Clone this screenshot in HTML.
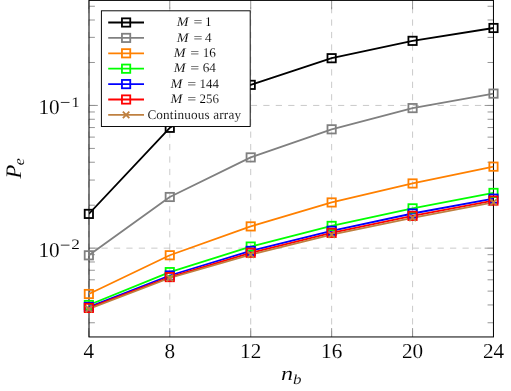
<!DOCTYPE html>
<html lang="en"><head><meta charset="utf-8"><title>Pe versus nb</title>
<style>
html,body{margin:0;padding:0;background:#fff;overflow:hidden}
svg{display:block;will-change:transform}
text{font-family:"Liberation Serif",serif;fill:#000;stroke:#fff;stroke-width:0.1;text-rendering:geometricPrecision}
.i{font-style:italic}
</style>
</head><body>
<svg width="511" height="391" viewBox="0 0 511 391">
<rect x="0" y="0" width="511" height="391" fill="#ffffff"/>
<defs><clipPath id="c"><rect x="89.0" y="0.4" width="404.45" height="336.55"/></clipPath></defs>
<g stroke="#bfbfbf" stroke-width="0.830" stroke-dasharray="6.225 6.225" fill="none">
<path d="M88.85 336.95V0.4"/>
<path d="M169.78 336.95V0.4"/>
<path d="M250.71 336.95V0.4"/>
<path d="M331.64 336.95V0.4"/>
<path d="M412.57 336.95V0.4"/>
<path d="M493.50 336.95V0.4"/>
<path d="M89.0 105.45H493.45"/>
<path d="M89.0 248.15H493.45"/>
</g>
<g stroke="#808080" stroke-width="0.830" fill="none">
<path d="M88.85 336.95v-8.82M88.85 0.4v8.82"/>
<path d="M169.78 336.95v-8.82M169.78 0.4v8.82"/>
<path d="M250.71 336.95v-8.82M250.71 0.4v8.82"/>
<path d="M331.64 336.95v-8.82M331.64 0.4v8.82"/>
<path d="M412.57 336.95v-8.82M412.57 0.4v8.82"/>
<path d="M493.50 336.95v-8.82M493.50 0.4v8.82"/>
<path d="M89.0 105.45h8.82M493.45 105.45h-8.82"/>
<path d="M89.0 248.15h8.82M493.45 248.15h-8.82"/>
<path d="M89.0 322.76h5.88M493.45 322.76h-5.88M89.0 304.94h5.88M493.45 304.94h-5.88M89.0 291.11h5.88M493.45 291.11h-5.88M89.0 279.81h5.88M493.45 279.81h-5.88M89.0 270.25h5.88M493.45 270.25h-5.88M89.0 261.98h5.88M493.45 261.98h-5.88M89.0 254.68h5.88M493.45 254.68h-5.88M89.0 205.19h5.88M493.45 205.19h-5.88M89.0 180.06h5.88M493.45 180.06h-5.88M89.0 162.24h5.88M493.45 162.24h-5.88M89.0 148.41h5.88M493.45 148.41h-5.88M89.0 137.11h5.88M493.45 137.11h-5.88M89.0 127.55h5.88M493.45 127.55h-5.88M89.0 119.28h5.88M493.45 119.28h-5.88M89.0 111.98h5.88M493.45 111.98h-5.88M89.0 62.49h5.88M493.45 62.49h-5.88M89.0 37.36h5.88M493.45 37.36h-5.88M89.0 20.00h5.88M493.45 20.00h-5.88M89.0 6.25h5.88M493.45 6.25h-5.88"/>
</g>
<rect x="89.0" y="0.4" width="404.45" height="336.55" fill="none" stroke="#000" stroke-width="1.000"/>
<g clip-path="url(#c)" fill="none" stroke-linejoin="round">
<polyline points="88.85,213.90 169.78,127.80 250.71,84.85 331.64,58.20 412.57,40.85 493.50,28.00" stroke="#000000" stroke-width="1.800"/>
<polyline points="88.85,255.30 169.78,197.00 250.71,157.40 331.64,129.30 412.57,108.10 493.50,93.60" stroke="#808080" stroke-width="1.800"/>
<polyline points="88.85,294.00 169.78,255.25 250.71,226.40 331.64,202.45 412.57,183.45 493.50,166.65" stroke="#ff8000" stroke-width="1.800"/>
<polyline points="88.85,305.00 169.78,272.10 250.71,246.55 331.64,225.90 412.57,208.35 493.50,192.90" stroke="#00ff00" stroke-width="1.800"/>
<polyline points="88.85,306.95 169.78,275.50 250.71,250.90 331.64,230.80 412.57,213.50 493.50,198.65" stroke="#0000ff" stroke-width="1.800"/>
<polyline points="88.85,307.95 169.78,277.10 250.71,252.80 331.64,232.90 412.57,215.90 493.50,200.60" stroke="#ff0000" stroke-width="1.800"/>
<polyline points="88.85,309.00 169.78,278.00 250.71,254.60 331.64,234.60 412.57,217.80 493.50,202.40" stroke="#bf8040" stroke-width="1.800"/>
</g>
<rect x="84.70" y="209.75" width="8.30" height="8.30" fill="none" stroke="#000000" stroke-width="1.800"/>
<rect x="165.63" y="123.65" width="8.30" height="8.30" fill="none" stroke="#000000" stroke-width="1.800"/>
<rect x="246.56" y="80.70" width="8.30" height="8.30" fill="none" stroke="#000000" stroke-width="1.800"/>
<rect x="327.49" y="54.05" width="8.30" height="8.30" fill="none" stroke="#000000" stroke-width="1.800"/>
<rect x="408.42" y="36.70" width="8.30" height="8.30" fill="none" stroke="#000000" stroke-width="1.800"/>
<rect x="489.35" y="23.85" width="8.30" height="8.30" fill="none" stroke="#000000" stroke-width="1.800"/>
<rect x="84.70" y="251.15" width="8.30" height="8.30" fill="none" stroke="#808080" stroke-width="1.800"/>
<rect x="165.63" y="192.85" width="8.30" height="8.30" fill="none" stroke="#808080" stroke-width="1.800"/>
<rect x="246.56" y="153.25" width="8.30" height="8.30" fill="none" stroke="#808080" stroke-width="1.800"/>
<rect x="327.49" y="125.15" width="8.30" height="8.30" fill="none" stroke="#808080" stroke-width="1.800"/>
<rect x="408.42" y="103.95" width="8.30" height="8.30" fill="none" stroke="#808080" stroke-width="1.800"/>
<rect x="489.35" y="89.45" width="8.30" height="8.30" fill="none" stroke="#808080" stroke-width="1.800"/>
<rect x="84.70" y="289.85" width="8.30" height="8.30" fill="none" stroke="#ff8000" stroke-width="1.800"/>
<rect x="165.63" y="251.10" width="8.30" height="8.30" fill="none" stroke="#ff8000" stroke-width="1.800"/>
<rect x="246.56" y="222.25" width="8.30" height="8.30" fill="none" stroke="#ff8000" stroke-width="1.800"/>
<rect x="327.49" y="198.30" width="8.30" height="8.30" fill="none" stroke="#ff8000" stroke-width="1.800"/>
<rect x="408.42" y="179.30" width="8.30" height="8.30" fill="none" stroke="#ff8000" stroke-width="1.800"/>
<rect x="489.35" y="162.50" width="8.30" height="8.30" fill="none" stroke="#ff8000" stroke-width="1.800"/>
<rect x="84.70" y="300.85" width="8.30" height="8.30" fill="none" stroke="#00ff00" stroke-width="1.800"/>
<rect x="165.63" y="267.95" width="8.30" height="8.30" fill="none" stroke="#00ff00" stroke-width="1.800"/>
<rect x="246.56" y="242.40" width="8.30" height="8.30" fill="none" stroke="#00ff00" stroke-width="1.800"/>
<rect x="327.49" y="221.75" width="8.30" height="8.30" fill="none" stroke="#00ff00" stroke-width="1.800"/>
<rect x="408.42" y="204.20" width="8.30" height="8.30" fill="none" stroke="#00ff00" stroke-width="1.800"/>
<rect x="489.35" y="188.75" width="8.30" height="8.30" fill="none" stroke="#00ff00" stroke-width="1.800"/>
<rect x="84.70" y="302.80" width="8.30" height="8.30" fill="none" stroke="#0000ff" stroke-width="1.800"/>
<rect x="165.63" y="271.35" width="8.30" height="8.30" fill="none" stroke="#0000ff" stroke-width="1.800"/>
<rect x="246.56" y="246.75" width="8.30" height="8.30" fill="none" stroke="#0000ff" stroke-width="1.800"/>
<rect x="327.49" y="226.65" width="8.30" height="8.30" fill="none" stroke="#0000ff" stroke-width="1.800"/>
<rect x="408.42" y="209.35" width="8.30" height="8.30" fill="none" stroke="#0000ff" stroke-width="1.800"/>
<rect x="489.35" y="194.50" width="8.30" height="8.30" fill="none" stroke="#0000ff" stroke-width="1.800"/>
<rect x="84.70" y="303.80" width="8.30" height="8.30" fill="none" stroke="#ff0000" stroke-width="1.800"/>
<rect x="165.63" y="272.95" width="8.30" height="8.30" fill="none" stroke="#ff0000" stroke-width="1.800"/>
<rect x="246.56" y="248.65" width="8.30" height="8.30" fill="none" stroke="#ff0000" stroke-width="1.800"/>
<rect x="327.49" y="228.75" width="8.30" height="8.30" fill="none" stroke="#ff0000" stroke-width="1.800"/>
<rect x="408.42" y="211.75" width="8.30" height="8.30" fill="none" stroke="#ff0000" stroke-width="1.800"/>
<rect x="489.35" y="196.45" width="8.30" height="8.30" fill="none" stroke="#ff0000" stroke-width="1.800"/>
<path d="M85.60 305.75L92.10 312.25M85.60 312.25L92.10 305.75" fill="none" stroke="#bf8040" stroke-width="1.800"/>
<path d="M166.53 274.75L173.03 281.25M166.53 281.25L173.03 274.75" fill="none" stroke="#bf8040" stroke-width="1.800"/>
<path d="M247.46 251.35L253.96 257.85M247.46 257.85L253.96 251.35" fill="none" stroke="#bf8040" stroke-width="1.800"/>
<path d="M328.39 231.35L334.89 237.85M328.39 237.85L334.89 231.35" fill="none" stroke="#bf8040" stroke-width="1.800"/>
<path d="M409.32 214.55L415.82 221.05M409.32 221.05L415.82 214.55" fill="none" stroke="#bf8040" stroke-width="1.800"/>
<path d="M490.25 199.15L496.75 205.65M490.25 205.65L496.75 199.15" fill="none" stroke="#bf8040" stroke-width="1.800"/>
<rect x="101.4" y="10.8" width="148.79999999999998" height="115.7" fill="#fff" stroke="#000" stroke-width="0.95"/>
<path d="M108.2 22.50H144.0" stroke="#000000" stroke-width="1.800" fill="none"/>
<rect x="121.95" y="18.35" width="8.30" height="8.30" fill="none" stroke="#000000" stroke-width="1.800"/>
<text transform="translate(176.80,26.20) scale(1.08,1)" font-size="13.2" class="i">M</text>
<text transform="translate(193.40,26.20) scale(1.2,1)" font-size="13.2">=</text>
<text x="205.00" y="26.20" font-size="13.2">1</text>
<path d="M108.2 37.90H144.0" stroke="#808080" stroke-width="1.800" fill="none"/>
<rect x="121.95" y="33.75" width="8.30" height="8.30" fill="none" stroke="#808080" stroke-width="1.800"/>
<text transform="translate(176.80,41.60) scale(1.08,1)" font-size="13.2" class="i">M</text>
<text transform="translate(193.40,41.60) scale(1.2,1)" font-size="13.2">=</text>
<text x="205.00" y="41.60" font-size="13.2">4</text>
<path d="M108.2 53.30H144.0" stroke="#ff8000" stroke-width="1.800" fill="none"/>
<rect x="121.95" y="49.15" width="8.30" height="8.30" fill="none" stroke="#ff8000" stroke-width="1.800"/>
<text transform="translate(173.68,57.00) scale(1.08,1)" font-size="13.2" class="i">M</text>
<text transform="translate(190.28,57.00) scale(1.2,1)" font-size="13.2">=</text>
<text x="202.68" y="57.00" font-size="13.2">16</text>
<path d="M108.2 68.70H144.0" stroke="#00ff00" stroke-width="1.800" fill="none"/>
<rect x="121.95" y="64.55" width="8.30" height="8.30" fill="none" stroke="#00ff00" stroke-width="1.800"/>
<text transform="translate(173.68,72.40) scale(1.08,1)" font-size="13.2" class="i">M</text>
<text transform="translate(190.28,72.40) scale(1.2,1)" font-size="13.2">=</text>
<text x="202.68" y="72.40" font-size="13.2">64</text>
<path d="M108.2 84.10H144.0" stroke="#0000ff" stroke-width="1.800" fill="none"/>
<rect x="121.95" y="79.95" width="8.30" height="8.30" fill="none" stroke="#0000ff" stroke-width="1.800"/>
<text transform="translate(170.55,87.80) scale(1.08,1)" font-size="13.2" class="i">M</text>
<text transform="translate(187.15,87.80) scale(1.2,1)" font-size="13.2">=</text>
<text x="199.55" y="87.80" font-size="12.95">144</text>
<path d="M108.2 99.50H144.0" stroke="#ff0000" stroke-width="1.800" fill="none"/>
<rect x="121.95" y="95.35" width="8.30" height="8.30" fill="none" stroke="#ff0000" stroke-width="1.800"/>
<text transform="translate(170.55,103.20) scale(1.08,1)" font-size="13.2" class="i">M</text>
<text transform="translate(187.15,103.20) scale(1.2,1)" font-size="13.2">=</text>
<text x="199.55" y="103.20" font-size="12.95">256</text>
<path d="M108.2 114.90H144.0" stroke="#bf8040" stroke-width="1.800" fill="none"/>
<path d="M122.85 111.65L129.35 118.15M122.85 118.15L129.35 111.65" fill="none" stroke="#bf8040" stroke-width="1.800"/>
<text x="147.4" y="118.60" font-size="13.2" textLength="93.6" lengthAdjust="spacing">Continuous array</text>
<text x="88.85" y="358.3" font-size="21.2" text-anchor="middle">4</text>
<text x="169.78" y="358.3" font-size="21.2" text-anchor="middle">8</text>
<text x="250.71" y="358.3" font-size="21.2" text-anchor="middle">12</text>
<text x="331.64" y="358.3" font-size="21.2" text-anchor="middle">16</text>
<text x="412.57" y="358.3" font-size="21.2" text-anchor="middle">20</text>
<text x="493.50" y="358.3" font-size="21.2" text-anchor="middle">24</text>
<text x="38.40" y="114.45" font-size="21.2">10</text>
<path d="M60.8 102.45h8.7" stroke="#000" stroke-width="0.8" fill="none"/>
<text transform="translate(71.20,106.55) scale(1.2,1)" font-size="14.4">1</text>
<text x="38.40" y="257.15" font-size="21.2">10</text>
<path d="M60.8 245.15h8.7" stroke="#000" stroke-width="0.8" fill="none"/>
<text transform="translate(71.20,249.25) scale(1.2,1)" font-size="14.4">2</text>
<text transform="translate(281.00,380.40) scale(1.24,1)" font-size="19.5" class="i">n</text>
<text transform="translate(293.00,383.70) scale(1.2,1)" font-size="14.2" class="i">b</text>
<g transform="translate(21.1,178.6) rotate(-90)"><text transform="translate(0.00,0.00) scale(1.02,1)" font-size="22.2" class="i">P</text><text transform="translate(13.40,3.20) scale(1.05,1)" font-size="15" class="i">e</text></g>
</svg>
</body></html>
